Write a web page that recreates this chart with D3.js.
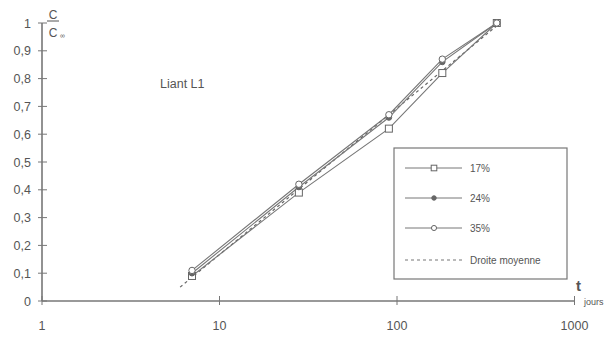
<!DOCTYPE html>
<html>
<head>
<meta charset="utf-8">
<script src="https://cdn.jsdelivr.net/npm/d3@7"></script>
<style>
  body { margin: 0; background: #fff; }
  text { font-family: "Liberation Sans", Arial, sans-serif; fill: #555; }
</style>
</head>
<body>
<div id="chart"></div>
<script>
// days and C/Cinf ratios
var days = [7, 28, 90, 180, 365];
var s17 = [0.09, 0.39, 0.62, 0.82, 1.0];
var s24 = [0.10, 0.41, 0.66, 0.86, 1.0];
var s35 = [0.11, 0.42, 0.67, 0.87, 1.0];
var meanLine = [[6, 0.05], [365, 0.99]];
var xTicks = [1, 10, 100, 1000];
var yTicks = [0, 0.1, 0.2, 0.3, 0.4, 0.5, 0.6, 0.7, 0.8, 0.9, 1];
var seriesNames = ["17%", "24%", "35%", "Droite moyenne"];

var svg = d3.select("#chart").append("svg").attr("width", 606).attr("height", 337);
var ink = "#777";

var x = d3.scaleLog().domain([1, 1000]).range([42, 574.5]);
var y = d3.scaleLinear().domain([0, 1]).range([301, 23]);

// y axis
svg.append("line").attr("x1", x(1)).attr("x2", x(1)).attr("y1", y(0)).attr("y2", y(1))
  .attr("stroke", ink).attr("stroke-width", 1.6);
svg.selectAll(".ytick").data(yTicks).enter().append("line")
  .attr("x1", x(1) - 4).attr("x2", x(1) + 5)
  .attr("y1", function(d) { return y(d); }).attr("y2", function(d) { return y(d); })
  .attr("stroke", ink).attr("stroke-width", 1);
svg.selectAll(".ylab").data(yTicks).enter().append("text")
  .attr("x", 31).attr("y", function(d) { return y(d) + 4.5; })
  .attr("text-anchor", "end").style("font-size", "12.5px")
  .text(function(d) { return d === 0 || d === 1 ? d : String(d).replace(".", ","); });

// x axis
svg.append("line").attr("x1", x(1)).attr("x2", x(1000)).attr("y1", y(0)).attr("y2", y(0))
  .attr("stroke", ink).attr("stroke-width", 1.3);
svg.selectAll(".xtick").data(xTicks).enter().append("line")
  .attr("x1", function(d) { return x(d); }).attr("x2", function(d) { return x(d); })
  .attr("y1", y(0) - 5).attr("y2", y(0) + 4)
  .attr("stroke", ink).attr("stroke-width", 1);
svg.selectAll(".xlab").data(xTicks).enter().append("text")
  .attr("x", function(d) { return x(d); }).attr("y", 330)
  .attr("text-anchor", "middle").style("font-size", "12.5px")
  .text(function(d) { return d; });

// axis titles
svg.append("text").attr("x", 53).attr("y", 19).attr("text-anchor", "middle")
  .style("font-size", "12px").text("C");
svg.append("line").attr("x1", 47).attr("x2", 59).attr("y1", 21).attr("y2", 21)
  .attr("stroke", "#555").attr("stroke-width", 1);
svg.append("text").attr("x", 53).attr("y", 37).attr("text-anchor", "middle")
  .style("font-size", "12px").text("C");
svg.append("text").attr("x", 60).attr("y", 38).style("font-size", "7px").text("∞");
svg.append("text").attr("x", 576).attr("y", 291).style("font-size", "15px")
  .style("font-weight", "bold").text("t");
svg.append("text").attr("x", 584).attr("y", 305).style("font-size", "9px").text("jours");
svg.append("text").attr("x", 160).attr("y", 88).style("font-size", "12.5px").text("Liant L1");

// lines
var line = d3.line().x(function(d) { return x(d[0]); }).y(function(d) { return y(d[1]); });
var series = [s17, s24, s35].map(function(v) {
  return days.map(function(d, i) { return [d, v[i]]; });
});

svg.append("path").datum(meanLine).attr("d", line).attr("fill", "none")
  .attr("stroke", "#666").attr("stroke-width", 1.2).attr("stroke-dasharray", "3,3");
series.forEach(function(s) {
  svg.append("path").datum(s).attr("d", line).attr("fill", "none")
    .attr("stroke", ink).attr("stroke-width", 1.1);
});

function marker(g, k, cx, cy, sc) {
  if (k === 0) {
    g.append("rect").attr("x", cx - 3.5 * sc).attr("y", cy - 3.5 * sc)
      .attr("width", 7 * sc).attr("height", 7 * sc)
      .attr("fill", "#fff").attr("stroke", "#666").attr("stroke-width", 1);
  } else if (k === 1) {
    g.append("circle").attr("cx", cx).attr("cy", cy).attr("r", 2.8 * sc)
      .attr("fill", "#666").attr("stroke", "#666");
  } else {
    g.append("circle").attr("cx", cx).attr("cy", cy).attr("r", 3.2 * sc)
      .attr("fill", "#fff").attr("stroke", "#666").attr("stroke-width", 1);
  }
}
var mk = svg.append("g");
series.forEach(function(s, k) {
  s.forEach(function(p) { marker(mk, k, x(p[0]), y(p[1]), 1); });
});

// legend
var lg = svg.append("g");
lg.append("rect").attr("x", 394).attr("y", 148).attr("width", 173).attr("height", 131)
  .attr("fill", "#fff").attr("stroke", ink).attr("stroke-width", 1.2);
var rowY = [168, 198, 228, 260];
seriesNames.forEach(function(n, i) {
  lg.append("line").attr("x1", 405).attr("x2", 462).attr("y1", rowY[i]).attr("y2", rowY[i])
    .attr("stroke", ink).attr("stroke-width", i === 3 ? 1.2 : 1)
    .attr("stroke-dasharray", i === 3 ? "3,3" : null);
  if (i < 3) marker(lg, i, 434, rowY[i], 0.8);
  lg.append("text").attr("x", 470).attr("y", rowY[i] + 3.5).style("font-size", "10px").text(n);
});
</script>
</body>
</html>
